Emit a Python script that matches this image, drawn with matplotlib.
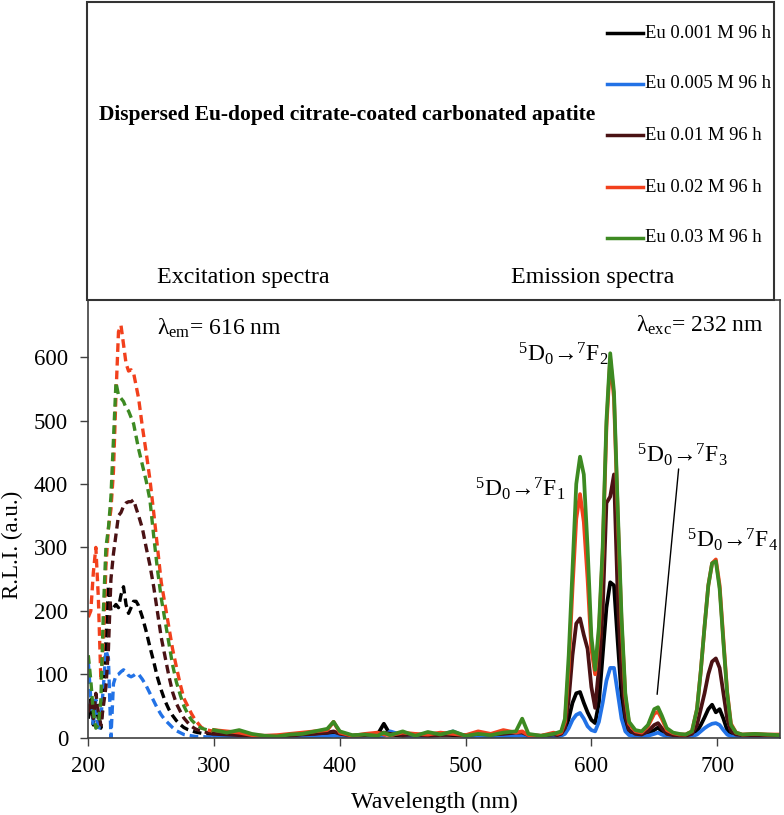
import matplotlib
matplotlib.use("Agg")
import matplotlib.pyplot as plt
from matplotlib.lines import Line2D
from matplotlib.patches import Rectangle

plt.rcParams['font.family'] = ['Liberation Serif', 'DejaVu Serif']
plt.rcParams['mathtext.fontset'] = 'custom'
plt.rcParams['mathtext.rm'] = 'Liberation Serif'
plt.rcParams['mathtext.it'] = 'Liberation Serif:italic'
plt.rcParams['mathtext.bf'] = 'Liberation Serif:bold'

# ---------------- data ----------------
series_labels = ["Eu 0.001 M 96 h", "Eu 0.005 M 96 h", "Eu 0.01 M 96 h",
                 "Eu 0.02 M 96 h", "Eu 0.03 M 96 h"]
series_colors = ["#000000", "#2272e6", "#4a1214", "#f2401c", "#3d8a22"]

# excitation spectra (lambda_em = 616 nm), dashed
exc_wl = [200, 202, 204, 206, 208, 210, 212, 214, 216, 218, 220, 222, 224, 226,
          228, 230, 232, 234, 236, 238, 240, 243, 246, 249, 252, 255, 258, 261,
          264, 267, 270, 273, 276, 279, 282, 285, 290, 295, 300]
exc_black = [30, 60, 20, 50, 30, 15, 60, 150, 240, 200, 205, 210, 205, 225,
             238, 210, 196, 205, 215, 215, 208, 190, 168, 143, 120, 95, 75, 58,
             45, 35, 27, 21, 16, 13, 11, 9, 7, 6, 5]
exc_blue = [120, 60, 20, 60, 10, 30, 80, 138, 125, 0, 85, 98, 100, 104,
            107, 104, 98, 96, 98, 101, 100, 92, 82, 70, 58, 46, 36, 28,
            22, 16, 11, 8, 5, 4, 3, 2, 2, 1, 1]
exc_brown = [40, 60, 30, 70, 40, 20, 50, 80, 140, 250, 290, 320, 350, 355,
             365, 370, 372, 372, 375, 362, 350, 330, 300, 272, 238, 198, 158, 128,
             98, 72, 54, 42, 31, 24, 18, 14, 10, 8, 6]
exc_red = [190, 200, 260, 300, 220, 90, 150, 270, 330, 360, 420, 540, 640, 650,
           620, 590, 578, 580, 575, 555, 535, 490, 450, 407, 355, 300, 245, 210,
           175, 140, 112, 85, 62, 50, 38, 28, 16, 12, 10]
exc_green = [130, 90, 40, 15, 20, 60, 200, 300, 330, 380, 470, 560, 540, 535,
             530, 520, 515, 505, 495, 475, 455, 430, 405, 375, 318, 265, 220, 185,
             150, 115, 88, 68, 50, 38, 28, 22, 15, 12, 10]

# emission spectra (lambda_exc = 232 nm), solid
em_wl = [300, 310, 320, 330, 340, 350, 360, 370, 380, 390, 395, 400, 410, 420,
         430, 435, 440, 450, 460, 470, 480, 490, 500, 510, 520, 530, 540, 545,
         550, 560, 570, 573, 576, 579, 582, 585, 588, 591, 594, 597, 600, 603,
         606, 609, 612, 615, 618, 621, 624, 627, 630, 635, 640, 645, 650, 653,
         656, 660, 665, 670, 675, 680, 684, 687, 690, 693, 696, 699, 702, 705,
         708, 711, 715, 720, 730, 740, 750]
em_black = [5, 4, 3, 2, 2, 2, 3, 4, 3, 5, 6, 4, 3, 4,
            5, 22, 5, 3, 4, 3, 5, 4, 3, 4, 3, 5, 4, 5,
            3, 2, 4, 3, 4, 10, 30, 55, 70, 72, 55, 40, 28, 23,
            55, 130, 205, 245, 240, 150, 65, 20, 8, 5, 4, 6, 12, 16,
            10, 5, 3, 3, 3, 4, 10, 20, 32, 45, 52, 40, 45, 30,
            12, 5, 3, 3, 3, 3, 3]
em_blue = [2, 1, 1, 1, 1, 1, 2, 2, 1, 2, 3, 2, 2, 3,
           2, 3, 10, 4, 2, 3, 4, 10, 2, 3, 2, 2, 3, 3,
           2, 1, 2, 2, 3, 6, 15, 28, 36, 39, 30, 18, 12, 10,
           25, 55, 90, 110, 110, 70, 30, 10, 4, 2, 2, 3, 6, 8,
           5, 2, 2, 2, 2, 2, 5, 10, 15, 19, 22, 23, 20, 12,
           5, 2, 2, 2, 2, 2, 2]
em_brown = [6, 5, 4, 3, 3, 3, 3, 5, 6, 8, 10, 6, 3, 4,
            6, 8, 6, 4, 5, 3, 4, 5, 4, 6, 5, 6, 8, 8,
            4, 3, 5, 4, 6, 15, 60, 130, 180, 188, 162, 140, 80, 47,
            110, 200, 370, 380, 415, 220, 100, 35, 12, 6, 5, 10, 20, 23,
            15, 6, 4, 3, 3, 6, 20, 45, 70, 100, 120, 125, 110, 70,
            30, 10, 5, 4, 4, 4, 3]
em_red = [12, 10, 8, 4, 3, 4, 6, 8, 10, 12, 25, 8, 3, 6,
          8, 5, 4, 8, 6, 5, 8, 6, 4, 10, 6, 12, 8, 10,
          4, 3, 8, 6, 8, 25, 110, 235, 345, 384, 340, 250, 140, 100,
          165, 290, 490, 597, 535, 350, 180, 65, 22, 10, 8, 18, 38, 41,
          30, 12, 7, 5, 5, 10, 45, 105, 175, 240, 275, 281, 240, 155,
          72, 22, 8, 5, 6, 5, 5]
em_green = [12, 8, 12, 6, 3, 2, 5, 6, 10, 14, 25, 10, 4, 5,
            3, 8, 4, 10, 3, 9, 5, 10, 3, 6, 4, 8, 10, 30,
            6, 3, 6, 8, 10, 30, 130, 265, 400, 443, 415, 300, 160, 107,
            175, 300, 500, 606, 545, 360, 190, 70, 25, 12, 10, 20, 45, 48,
            35, 15, 8, 6, 5, 10, 45, 105, 175, 240, 275, 278, 235, 150,
            70, 20, 8, 5, 6, 5, 4]

exc_values = [exc_black, exc_blue, exc_brown, exc_red, exc_green]
em_values = [em_black, em_blue, em_brown, em_red, em_green]

x_ticks = [200, 300, 400, 500, 600, 700]
y_ticks = [0, 100, 200, 300, 400, 500, 600]

# ---------------- figure ----------------
W, H = 784, 815
fig = plt.figure(figsize=(W / 100, H / 100), dpi=100)

def fx(px):
    return px / W

def fy(py):
    return 1 - py / H

ax = fig.add_axes([fx(88.3), fy(737.7), fx(780) - fx(88.3), fy(300) - fy(737.7)])

for vals, col in zip(exc_values, series_colors):
    ax.plot(exc_wl, vals, color=col, lw=2.4, linestyle=(0, (2.6, 1.5)),
            dash_capstyle='butt')
em_lines = []
for vals, col in zip(em_values, series_colors):
    ln, = ax.plot(em_wl, vals, color=col, lw=2.7, solid_joinstyle='round')
    em_lines.append(ln)

ax.set_xlim(200, 750)
ax.set_ylim(0, 690)
ax.set_xticks(x_ticks)
ax.set_yticks(y_ticks)
ax.tick_params(direction='out', length=5.5, width=1.0, color='#404040',
               labelsize=16.5)
ax.tick_params(axis='y', pad=9)
ax.tick_params(axis='x', pad=8)
for sp in ax.spines.values():
    sp.set_color('#404040')
    sp.set_linewidth(1.2)

ax.set_xlabel("Wavelength (nm)", fontsize=17.3, labelpad=10)
ax.set_ylabel("R.L.I. (a.u.)", fontsize=16.5)
ax.yaxis.set_label_coords(-0.094, 0.44)

# in-axes annotations
ax.text(254.8, 646, "λ$_{\\mathregular{em}}$= 616 nm", fontsize=17, ha='left', va='center')
ax.text(635.2, 650, "λ$_{\\mathregular{exc}}$= 232 nm", fontsize=17, ha='left', va='center')

def trans(n):
    return ("$^{\\mathregular{5}}$D$_{\\mathregular{0}}$→$^{\\mathregular{7}}$F$_{\\mathregular{%d}}$" % n)

ax.text(541.5, 606, trans(2), fontsize=17, ha='left', va='center')
ax.text(507.4, 393, trans(1), fontsize=17, ha='left', va='center')
ax.text(636.0, 446, trans(3), fontsize=17, ha='left', va='center')
ax.text(675.7, 312, trans(4), fontsize=17, ha='left', va='center')
ax.annotate("", xy=(652.1, 64), xytext=(669.6, 428),
            arrowprops=dict(arrowstyle='-', color='black', lw=1.0))

# top box with title and legend
box = Rectangle((fx(87), fy(300)), fx(774) - fx(87), fy(2) - fy(300),
                transform=fig.transFigure, fill=False, edgecolor='#333333', lw=1.5)
fig.add_artist(box)

fig.text(fx(99), fy(115), "Dispersed Eu-doped citrate-coated carbonated apatite",
         fontsize=15.5, fontweight='bold', ha='left', va='center')
fig.text(fx(157), fy(278), "Excitation spectra", fontsize=17.3, ha='left', va='center')
fig.text(fx(511), fy(278), "Emission spectra", fontsize=17.3, ha='left', va='center')

leg_y = [33, 84, 135, 187, 238]
for ln, lab, yy in zip(em_lines, series_labels, leg_y):
    fig.add_artist(Line2D([fx(607), fx(643)], [fy(yy), fy(yy)],
                          color=ln.get_color(), lw=2.5, transform=fig.transFigure))
    fig.text(fx(645), fy(yy), lab, fontsize=13.4, ha='left', va='center')

fig.savefig("out.png", dpi=100)
